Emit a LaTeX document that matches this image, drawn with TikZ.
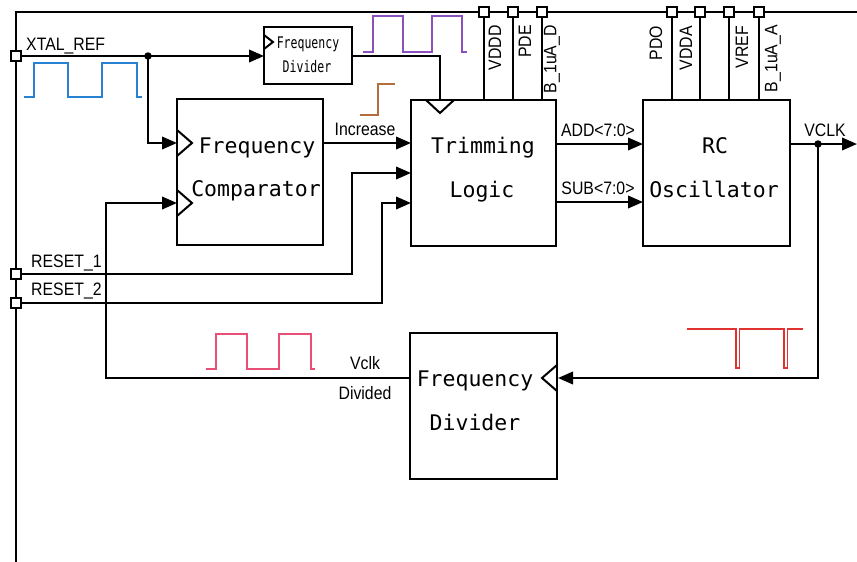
\documentclass[tikz,border=0pt]{standalone}
\usepackage{fontspec}
\setmainfont{Liberation Sans}
\newfontfamily\boxfont{DejaVu Sans Mono}
\newfontfamily\smallboxfont[FakeStretch=0.72]{DejaVu Sans Mono}
\newfontfamily\labfont[FakeStretch=0.88]{Liberation Sans}
\usetikzlibrary{arrows.meta}
\definecolor{wblue}{RGB}{40,130,210}
\definecolor{wpurple}{RGB}{140,80,190}
\definecolor{wbrown}{RGB}{180,110,60}
\definecolor{wpink}{RGB}{232,80,120}
\definecolor{wred}{RGB}{225,50,50}
\begin{document}
\begin{tikzpicture}[x=1pt,y=-1pt,
 wire/.style={line width=2.1pt},
 arr/.style={wire,-{Triangle[length=15pt,width=12.5pt]}},
 blk/.style={draw,line width=2.4pt,inner sep=0pt,outer sep=0pt,minimum width=146pt,minimum height=146pt,anchor=north west},
 term/.style={draw,line width=2pt,fill=white,minimum size=10pt,inner sep=0pt},
 btxt/.style={font=\boxfont\fontsize{21.5}{25}\selectfont,inner sep=0pt,anchor=base},
 stxt/.style={font=\smallboxfont\fontsize{16}{19}\selectfont,inner sep=0pt,anchor=base},
 lab/.style={font=\labfont\fontsize{18}{21}\selectfont,inner sep=0pt,anchor=base},
 vlab/.style={font=\labfont\fontsize{18}{21}\selectfont,inner sep=0pt,rotate=90,anchor=east},
 jdot/.style={circle,fill,minimum size=7.5pt,inner sep=0pt},
 clk/.style={line width=2pt,line join=miter},
 wave/.style={line width=1.6pt}
]
\useasboundingbox (0,0) rectangle (857,562);
% frame
\draw[wire] (857,12) -- (16,12) -- (16,562);

% blocks
\node[blk] (cmp) at (177,99) {};
\node[blk,minimum width=145pt] (trim) at (411,100) {};
\node[blk,minimum width=147pt] (rc) at (643,100) {};
\node[blk,minimum width=147pt] (div) at (410,333) {};
\node[blk,minimum width=88pt,minimum height=57pt] (sdiv) at (264,27) {};

% block texts
\node[btxt] (t1) at (257,153) {Frequency};
\node[btxt] (t2) at (256,196) {Comparator};
\node[btxt] (t3) at (483,153) {Trimming};
\node[btxt] (t4) at (482,197) {Logic};
\node[btxt] (t5) at (715,153) {RC};
\node[btxt] (t6) at (714,197) {Oscillator};
\node[btxt] (t7) at (475,386) {Frequency};
\node[btxt] (t8) at (475,430) {Divider};
\node[stxt] (t9) at (308,48) {Frequency};
\node[stxt] (t10) at (307,72) {Divider};

% clock triangles
\draw[clk] (177,130) -- (192,143) -- (177,156);
\draw[clk] (177,190) -- (192,203) -- (177,216);
\draw[clk] (426,100) -- (440,113) -- (454,100);
\draw[clk] (264,35) -- (273,42) -- (264,49);
\draw[clk] (557,365) -- (542,378) -- (557,391);

% coordinates
\coordinate (j1) at (148,56);
\coordinate (cin1) at (177,143);
\coordinate (cin2) at (177,203);
\coordinate (tclk) at (440,100);
\coordinate (r1b) at (352,173);
\coordinate (r2b) at (382,203);
\coordinate (tin2) at (411,173);
\coordinate (tin3) at (411,203);
\coordinate (vout) at (857,144);
\coordinate (j2) at (818,144);
\coordinate (fb) at (818,378);
\coordinate (divin) at (558,378);
\coordinate (divout) at (410,378);
\coordinate (lb) at (106,203);

% terminals
\node[term] (txtal) at (16,56) {};
\node[term] (trst1) at (16,274) {};
\node[term] (trst2) at (16,303) {};
\node[term] (tvddd) at (484,12) {};
\node[term] (tpde) at (513,12) {};
\node[term] (tbd) at (542,12) {};
\node[term] (tpdo) at (672,12) {};
\node[term] (tvdda) at (700,12) {};
\node[term] (tvref) at (729,12) {};
\node[term] (tba) at (759,12) {};

% supply lines
\foreach \t in {tvddd,tpde,tbd}{\draw[wire] (\t.south) -- (\t.south |- trim.north);}
\foreach \t in {tpdo,tvdda,tvref,tba}{\draw[wire] (\t.south) -- (\t.south |- rc.north);}

% connectors
\draw[arr] (txtal.east) -- (txtal.east -| sdiv.west);
\node[jdot] (j1d) at (j1) {};
\draw[arr] (j1) |- (cin1);
\draw[wire] (sdiv.east |- txtal) -| (tclk);
\draw[arr] (cmp.east |- cin1) -- (trim.west |- cin1);
\draw[arr] (trst1.east) -| (r1b) -- (tin2);
\draw[arr] (trst2.east) -| (r2b) -- (tin3);
\draw[arr] (trim.east |- 0,144) -- (rc.west |- 0,144);
\draw[arr] (trim.east |- 0,202) -- (rc.west |- 0,202);
\draw[arr] (rc.east |- vout) -- (vout);
\node[jdot] (j2d) at (j2) {};
\draw[arr] (j2) -- (fb) -- (divin);
\draw[arr] (divout) -| (lb) -- (cin2);

% labels
\node[lab,anchor=base west] (lx) at (26,50) {XTAL\_REF};
\node[lab,anchor=base west] (lr1) at (31,267) {RESET\_1};
\node[lab,anchor=base west] (lr2) at (31,295) {RESET\_2};
\node[lab] (linc) at (365,135) {Increase};
\node[lab] (ladd) at (598,136) {ADD<7:0>};
\node[lab] (lsub) at (598,194) {SUB<7:0>};
\node[lab] (lvclk) at (825,136) {VCLK};
\node[lab] (lv1) at (365,369) {Vclk};
\node[lab] (lv2) at (365,399) {Divided};

\node[vlab] (lvddd) at (495,25) {VDDD};
\node[vlab] (lpde) at (525,25) {PDE};
\node[vlab] (lbd) at (552,25) {B\_1uA\_D};
\node[vlab] (lpdo) at (656,26) {PDO};
\node[vlab] (lvdda) at (686,26) {VDDA};
\node[vlab] (lvref) at (742,26) {VREF};
\node[vlab] (lba) at (773,25) {B\_1uA\_A};

% waveforms
\draw[wave,wblue] (24,97) -- (34,97) -- (34,63) -- (68,63) -- (68,97) -- (102,97) -- (102,63) -- (137,63) -- (137,97) -- (142,97);
\draw[wave,wpurple] (363,52) -- (373,52) -- (373,16) -- (403,16) -- (403,52) -- (432,52) -- (432,16) -- (462,16) -- (462,52) -- (467,52);
\draw[wave,wbrown] (360,115) -- (378,115) -- (378,84) -- (395,84);
\draw[wave,wpink] (206,369) -- (216,369) -- (216,334) -- (247,334) -- (247,369) -- (279,369) -- (279,334) -- (311,334) -- (311,369) -- (315,369);
\draw[line width=1.2pt,wred] (687,329) -- (736,329) -- (736,368) -- (739.5,368) -- (739.5,329) -- (784,329) -- (784,368) -- (787.5,368) -- (787.5,329) -- (803,329);
\end{tikzpicture}
\end{document}
